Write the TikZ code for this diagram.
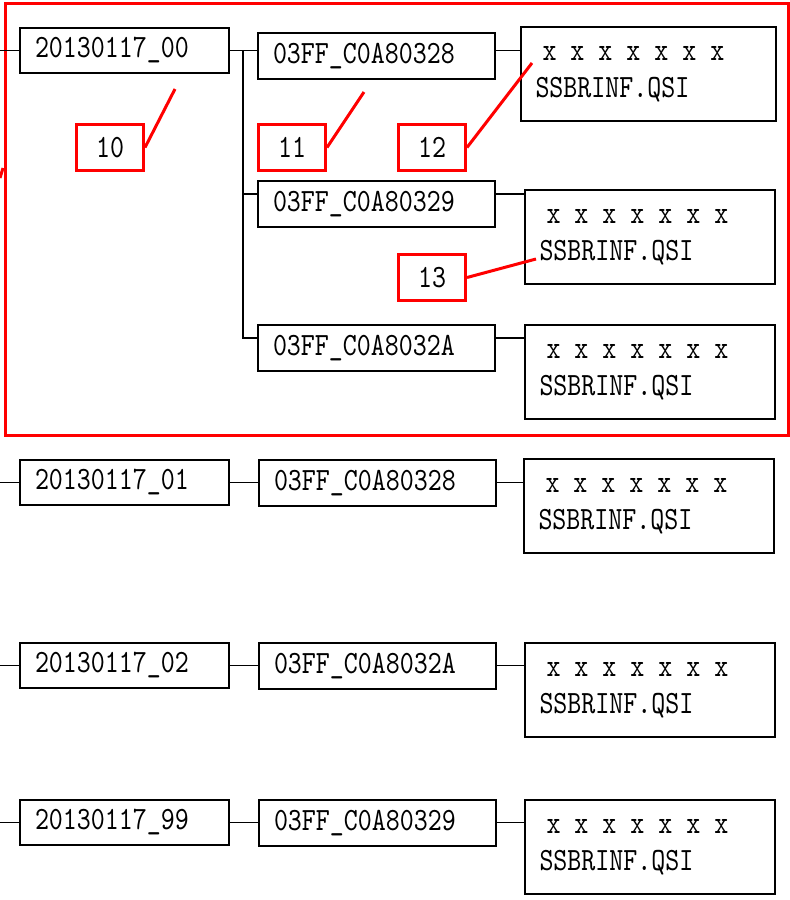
\documentclass[tikz,border=0pt]{standalone}
\usepackage{fontspec}
\usepackage{tikz}
\usetikzlibrary{positioning,calc}
\usepackage{xcolor}
\newfontfamily\boxfont{lmmono10-regular.otf}[FakeStretch=0.82]
\newcommand\xrow{{\spaceskip=14pt\relax\hspace*{7pt}x x x x x x x}}

\begin{document}
\begin{tikzpicture}[x=1pt, y=-1pt,
    every node/.style={font=\boxfont\fontsize{32.5}{37}\selectfont},
    link/.style={line width=1.6pt, black},
    datebox/.style={draw, line width=1.6pt, anchor=north west, align=left,
      inner xsep=15.2pt, text width=179pt, minimum height=45.4pt},
    dirbox/.style={draw, line width=1.6pt, anchor=north west, align=left,
      inner xsep=15.2pt, text width=207pt, minimum height=46.4pt},
    filebox/.style={draw, line width=1.6pt, anchor=north west, align=left,
      inner xsep=14.7pt, text width=221pt, minimum height=94.4pt},
    callout/.style={draw=red, line width=3pt, anchor=north west,
      minimum width=67pt, minimum height=46pt, inner sep=0pt},
    mark line/.style={red, line width=3pt}]
  \useasboundingbox (0,0) rectangle (790,900);
  % Group 20130117_00 in the red frame
  \draw[red, line width=3pt] (5,3.5) rectangle (788,435);
  \draw[mark line] (0,178) -- (3,168);
  \node[datebox] (d0) at (19,27) {20130117\_00};
  \node[dirbox] (c1) at (257,32) {03FF\_C0A80328};
  \node[dirbox] (c2) at (257,180) {03FF\_C0A80329};
  \node[dirbox] (c3) at (257,324) {03FF\_C0A8032A};
  \node[filebox, text width=226pt] (f1) at (520,26) {\xrow\\SSBRINF.QSI};
  \node[filebox] (f2) at (524,189) {\xrow\\SSBRINF.QSI};
  \node[filebox] (f3) at (524,324) {\xrow\\SSBRINF.QSI};
  \coordinate (l0) at (0,0);
  \coordinate (j1) at (243,50);
  \coordinate (j2) at (243,194);
  \coordinate (j3) at (243,338);
  \draw[link] (l0 |- d0.west) -- (d0.west);
  \draw[link] (d0.east) -- (c1.west |- d0.east);
  \draw[link] (c1.east |- d0.east) -- (f1.west |- d0.east);
  \draw[link] (j1) -- (j3) -- (c3.west |- j3);
  \draw[link] (j2) -- (c2.west |- j2);
  \draw[link] (c2.east |- j2) -- (f2.west |- j2);
  \draw[link] (c3.east |- j3) -- (f3.west |- j3);
  % Numbered marks
  \node[callout] (m10) at (75,123) {10};
  \node[callout] (m11) at (257,123) {11};
  \node[callout] (m12) at (397,123) {12};
  \node[callout] (m13) at (397,253) {13};
  \coordinate (p10) at (175,89);
  \coordinate (p11) at (364,92);
  \coordinate (p12) at (532,63);
  \coordinate (p13) at (536,259);
  \draw[mark line] (m10.east) -- (p10);
  \draw[mark line] (m11.east) -- (p11);
  \draw[mark line] (m12.east) -- (p12);
  \draw[mark line] (m13.east) -- (p13);
  % Other groups
  \node[datebox] (d1) at (19,459) {20130117\_01};
  \node[dirbox] (c4) at (258,459) {03FF\_C0A80328};
  \node[filebox] (f4) at (523,458) {\xrow\\SSBRINF.QSI};
  \node[datebox] (d2) at (19,642) {20130117\_02};
  \node[dirbox] (c5) at (258,642) {03FF\_C0A8032A};
  \node[filebox] (f5) at (524,642) {\xrow\\SSBRINF.QSI};
  \node[datebox] (d3) at (19,799) {20130117\_99};
  \node[dirbox] (c6) at (258,799) {03FF\_C0A80329};
  \node[filebox] (f6) at (524,799) {\xrow\\SSBRINF.QSI};
  \draw[link] (l0 |- d1.west) -- (d1.west);
  \draw[link] (d1.east) -- (c4.west |- d1.east);
  \draw[link] (c4.east |- d1.east) -- (f4.west |- d1.east);
  \draw[link] (l0 |- d2.west) -- (d2.west);
  \draw[link] (d2.east) -- (c5.west |- d2.east);
  \draw[link] (c5.east |- d2.east) -- (f5.west |- d2.east);
  \draw[link] (l0 |- d3.west) -- (d3.west);
  \draw[link] (d3.east) -- (c6.west |- d3.east);
  \draw[link] (c6.east |- d3.east) -- (f6.west |- d3.east);
\end{tikzpicture}
\end{document}
